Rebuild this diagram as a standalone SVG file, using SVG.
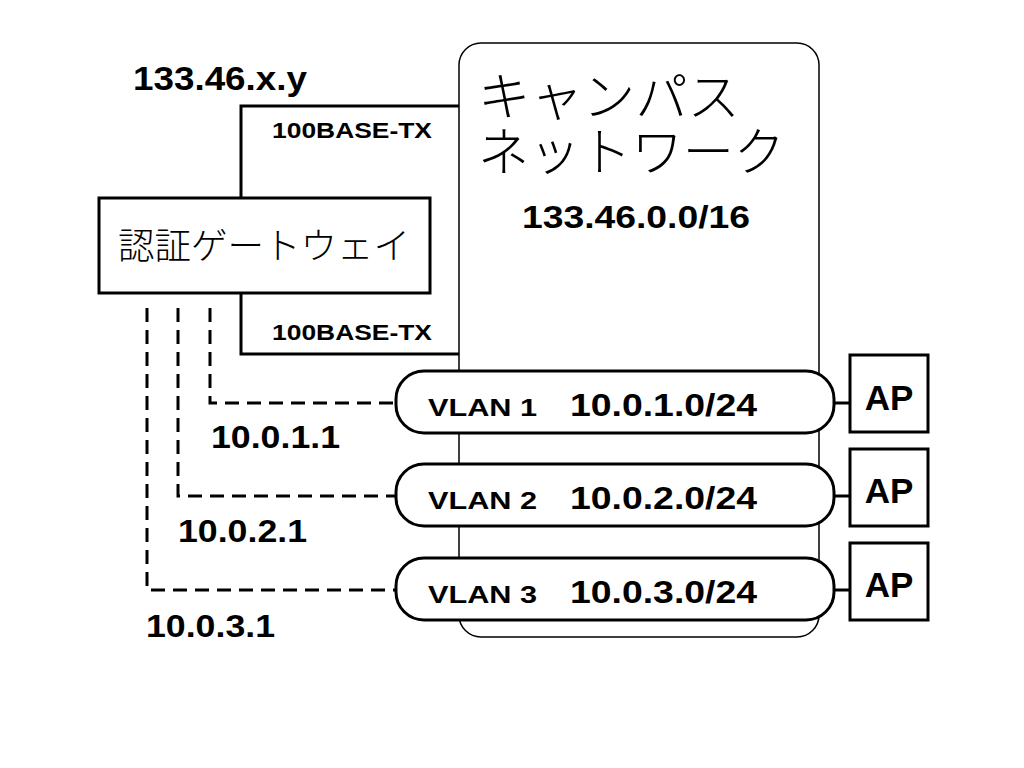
<svg xmlns="http://www.w3.org/2000/svg" width="1024" height="768" viewBox="0 0 1024 768">
<style>
.b{font-family:"Liberation Sans",Arial,sans-serif;font-weight:bold;fill:#000}
.j{font-family:"Liberation Serif","Noto Sans CJK JP",serif;font-weight:300;fill:#000}
.thick{fill:none;stroke:#000;stroke-width:3}
.box{fill:#fff;stroke:#000;stroke-width:3}
.dash{fill:none;stroke:#000;stroke-width:3;stroke-dasharray:14 8}
</style>
<rect width="1024" height="768" fill="#fff"/>
<g id="campus">
<rect x="459" y="43" width="360" height="594" rx="22" fill="#fff" stroke="#000" stroke-width="1.5"/>
<text class="j" x="478" y="116" font-size="52" textLength="262" lengthAdjust="spacingAndGlyphs">キャンパス</text>
<text class="j" x="478" y="171" font-size="52" textLength="307" lengthAdjust="spacingAndGlyphs">ネットワーク</text>
<text class="b" x="522" y="228" font-size="32" textLength="228" lengthAdjust="spacingAndGlyphs">133.46.0.0/16</text>
</g>
<g id="connectors">
<polyline class="thick" points="241,197 241,106 459,106"/>
<polyline class="thick" points="241,294 241,354 459,354"/>
<polyline class="dash" points="210,308 210,403 396,403"/>
<polyline class="dash" points="178,308 178,496 396,496"/>
<polyline class="dash" points="147,308 147,590 396,590"/>
<line class="thick" x1="819" y1="403" x2="850" y2="403"/>
<line class="thick" x1="819" y1="496" x2="850" y2="496"/>
<line class="thick" x1="819" y1="590" x2="850" y2="590"/>
</g>
<g id="labels">
<text class="b" x="133" y="90" font-size="33" textLength="174" lengthAdjust="spacingAndGlyphs">133.46.x.y</text>
<text class="b" x="272" y="138" font-size="22" textLength="160" lengthAdjust="spacingAndGlyphs">100BASE-TX</text>
<text class="b" x="272" y="340" font-size="22" textLength="160" lengthAdjust="spacingAndGlyphs">100BASE-TX</text>
<text class="b" x="211" y="448" font-size="32" textLength="129" lengthAdjust="spacingAndGlyphs">10.0.1.1</text>
<text class="b" x="178" y="542" font-size="32" textLength="129" lengthAdjust="spacingAndGlyphs">10.0.2.1</text>
<text class="b" x="146" y="637" font-size="32" textLength="129" lengthAdjust="spacingAndGlyphs">10.0.3.1</text>
</g>
<g id="gateway">
<rect class="box" x="99" y="198" width="331" height="95"/>
<text class="j" x="118" y="259" font-size="36.5" textLength="292" lengthAdjust="spacingAndGlyphs">認証ゲートウェイ</text>
</g>
<g id="vlan1">
<rect class="box" x="396" y="371" width="438" height="62" rx="28"/>
<text class="b" x="428" y="416" font-size="24" textLength="109" lengthAdjust="spacingAndGlyphs">VLAN 1</text>
<text class="b" x="570" y="416" font-size="32" textLength="187" lengthAdjust="spacingAndGlyphs">10.0.1.0/24</text>
</g>
<g id="vlan2">
<rect class="box" x="396" y="464" width="438" height="62" rx="28"/>
<text class="b" x="428" y="509" font-size="24" textLength="109" lengthAdjust="spacingAndGlyphs">VLAN 2</text>
<text class="b" x="570" y="509" font-size="32" textLength="187" lengthAdjust="spacingAndGlyphs">10.0.2.0/24</text>
</g>
<g id="vlan3">
<rect class="box" x="396" y="558" width="438" height="62" rx="28"/>
<text class="b" x="428" y="603" font-size="24" textLength="109" lengthAdjust="spacingAndGlyphs">VLAN 3</text>
<text class="b" x="570" y="603" font-size="32" textLength="187" lengthAdjust="spacingAndGlyphs">10.0.3.0/24</text>
</g>
<g id="ap1">
<rect class="box" x="850" y="355" width="78" height="77"/>
<text class="b" x="889" y="410" font-size="35" text-anchor="middle">AP</text>
</g>
<g id="ap2">
<rect class="box" x="850" y="449" width="78" height="77"/>
<text class="b" x="889" y="503" font-size="35" text-anchor="middle">AP</text>
</g>
<g id="ap3">
<rect class="box" x="850" y="543" width="78" height="77"/>
<text class="b" x="889" y="597" font-size="35" text-anchor="middle">AP</text>
</g>
</svg>
